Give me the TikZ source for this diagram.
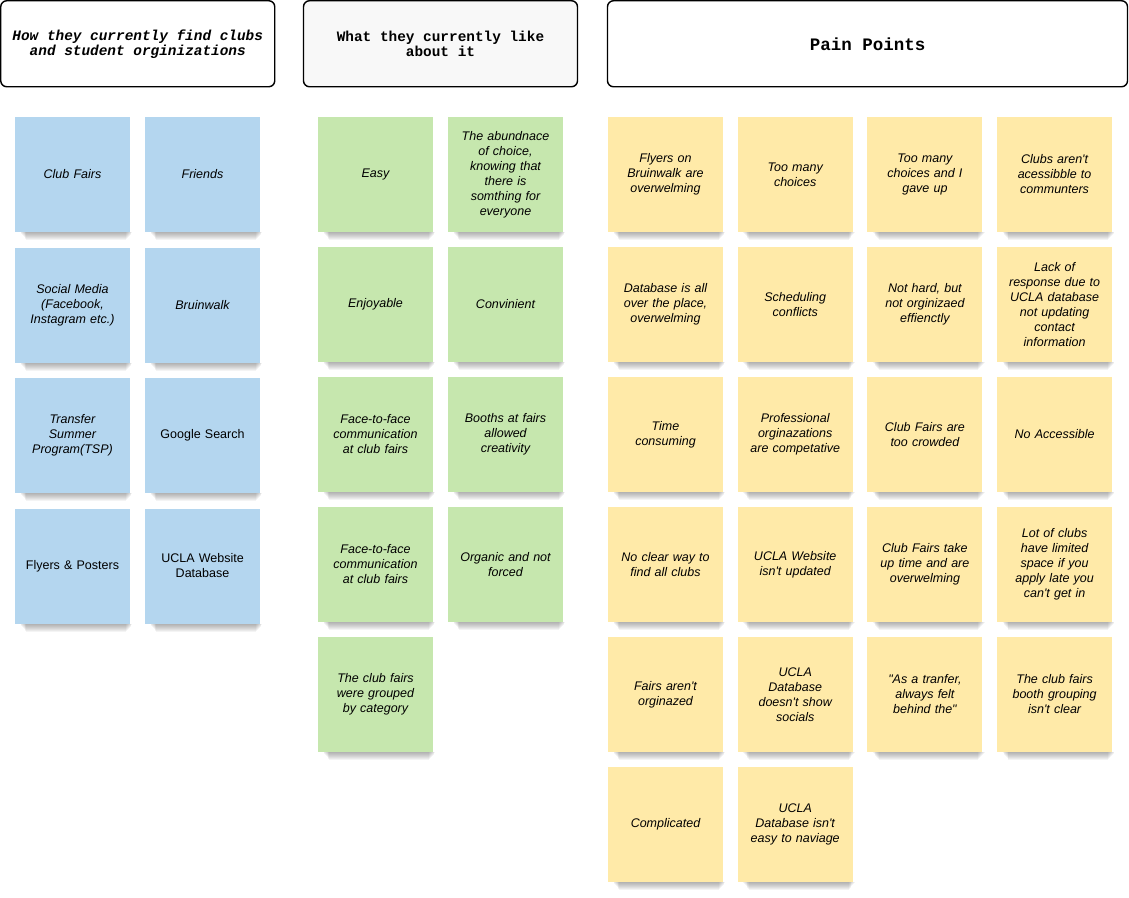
\documentclass[tikz,border=0pt]{standalone}
\usepackage{fontspec}
\setmainfont{Liberation Sans}
\newfontfamily\headfont{Liberation Mono}
\usetikzlibrary{backgrounds}
\definecolor{findblue}{HTML}{B4D6EF}
\definecolor{likegreen}{HTML}{C6E7AE}
\definecolor{painyellow}{HTML}{FFEAA8}
\definecolor{headgray}{HTML}{F8F8F8}
\newcommand{\ap}{\textquotesingle}
\newcommand{\qt}{\textquotedbl}
\tikzset{
  note/.style={minimum size=115pt, inner sep=0pt, text width=104pt, align=center,
    font=\fontsize{12.5}{15}\selectfont\itshape},
  notedrop/.style={fill=black, opacity=0.045},
  header/.style={draw, line width=1.4pt, rounded corners=6pt, minimum height=86pt,
    inner sep=0pt, align=center, font=\headfont\bfseries\fontsize{14.4}{15}\selectfont},
}
\begin{document}
\begin{tikzpicture}[x=1pt, y=1pt]
  \useasboundingbox (0,0) rectangle (1129,-897);
  \node[header, fill=white, minimum width=274pt, font=\headfont\bfseries\itshape\fontsize{14.4}{15}\selectfont]
    (findhead) at (137.75,-43.75) {How they currently find clubs\\and student orginizations};
  \node[header, fill=headgray, minimum width=274pt] (likehead) at (440.5,-43.75) {What they currently like\\about it};
  \node[header, fill=white, minimum width=520pt, font=\headfont\bfseries\fontsize{17.5}{18}\selectfont]
    (painhead) at (867.5,-43.75) {Pain Points};
  \def\rowy{174.5}
  \foreach \n/\c/\r/\t in {1/0/0/Club Fairs, 2/1/0/Friends,
      3/0/1/{Social Media\\(Facebook,\\Instagram etc.)}, 4/1/1/Bruinwalk,
      5/0/2/{Transfer\\Summer\\Program(TSP)}, 6/1/2/{\upshape Google Search},
      7/0/3/{\upshape Flyers \& Posters}, 8/1/3/{\upshape UCLA Website\\Database}}
    \node[note, fill=findblue] (find\n) at ({72.5+\c*130}, {-\rowy-\r*130.5}) {\t};
  \foreach \n/\c/\r/\t in {1/0/0/Easy, 2/1/0/{The abundnace\\of choice,\\knowing that\\there is\\somthing for\\everyone},
      3/0/1/Enjoyable, 4/1/1/Convinient,
      5/0/2/{Face-to-face\\communication\\at club fairs}, 6/1/2/{Booths at fairs\\allowed\\creativity},
      7/0/3/{Face-to-face\\communication\\at club fairs}, 8/1/3/{Organic and not\\forced},
      9/0/4/{The club fairs\\were grouped\\by category}}
    \node[note, fill=likegreen] (like\n) at ({375.5+\c*130}, {-\rowy-\r*130}) {\t};
  \foreach \n/\c/\r/\t in {1/0/0/{Flyers on\\Bruinwalk are\\overwelming}, 2/1/0/{Too many\\choices},
      3/2/0/{Too many\\choices and I\\gave up}, 4/3/0/{Clubs aren\ap t\\acessibble to\\communters},
      5/0/1/{Database is all\\over the place,\\overwelming}, 6/1/1/{Scheduling\\conflicts},
      7/2/1/{Not hard, but\\not orginizaed\\effienctly}, 8/3/1/{Lack of\\response due to\\UCLA database\\not updating\\contact\\information},
      9/0/2/{Time\\consuming}, 10/1/2/{Professional\\orginazations\\are competative},
      11/2/2/{Club Fairs are\\too crowded}, 12/3/2/No Accessible,
      13/0/3/{No clear way to\\find all clubs}, 14/1/3/{UCLA Website\\isn\ap t updated},
      15/2/3/{Club Fairs take\\up time and are\\overwelming}, 16/3/3/{Lot of clubs\\have limited\\space if you\\apply late you\\can\ap t get in},
      17/0/4/{Fairs aren\ap t\\orginazed}, 18/1/4/{UCLA\\Database\\doesn\ap t show\\socials},
      19/2/4/{\qt As a tranfer,\\always felt\\behind the\qt}, 20/3/4/{The club fairs\\booth grouping\\isn\ap t clear},
      21/0/5/Complicated, 22/1/5/{UCLA\\Database isn\ap t\\easy to naviage}}
    \node[note, fill=painyellow] (pain\n) at ({665.5+\c*129.7}, {-\rowy-\r*130}) {\t};
  \begin{pgfonlayer}{background}
    \foreach \g/\m in {find/8, like/9, pain/22}
      \foreach \n in {1,...,\m}
        \foreach \k in {1,...,8}
          \fill[notedrop] ([xshift=5+0.8*\k]\g\n.south west) rectangle ([xshift=3-0.9*\k, yshift=-\k]\g\n.south east);
  \end{pgfonlayer}
\end{tikzpicture}
\end{document}
